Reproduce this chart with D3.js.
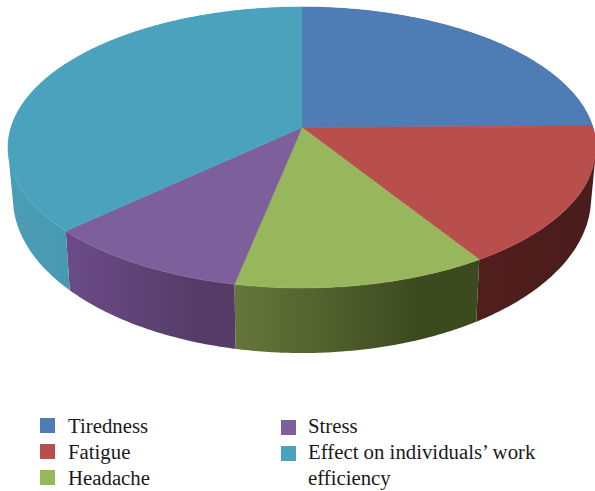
<!DOCTYPE html>
<html>
<head>
<meta charset="utf-8">
<script src="https://cdn.jsdelivr.net/npm/d3@7"></script>
<style>
    html, body { margin: 0; padding: 0; background: #fff; }
    svg { display: block; }
    text { font-family: "Liberation Serif", serif; font-size: 20.8px; fill: #1a1a1a; }
</style>
</head>
<body>
<div id="chart"></div>
<script>
// Chart data (percent of answers)
const categories = ['Tiredness', 'Fatigue', 'Headache', 'Stress', "Effect on individuals\u2019 work efficiency"];
const values = [24.8, 16.2, 12.2, 9.9, 36.9];
const topColors = ['#4e7db6', '#b94f4c', '#98b65b', '#7d5f9c', '#4aa2bd'];
// wall shading, left to right
const wallStart = ['#2f4a6c', '#521f1d', '#66763a', '#6a4b86', '#4a9db5'];
const wallEnd = ['#2a4262', '#4a1c1b', '#3c4a20', '#553c68', '#3f8ea6'];
// legend layout: column, row of first line, wrapped text
const legendColumn = [0, 0, 0, 1, 1];
const legendRow = [0, 1, 2, 0, 1];
const legendLines = [['Tiredness'], ['Fatigue'], ['Headache'], ['Stress'], ['Effect on individuals\u2019 work', 'efficiency']];

const width = 595;
const height = 491;
const tilt = 0.1423; // perspective strength of the tilted disc
const cx = 302;

// Top face and bottom face of the disc, same perspective, different plane
const topFace = { a: -119.5, b: 127.5, d: 291 };
const bottomFace = { a: -126.85, b: 175.95, d: 286.1 };

function project(face, angle) {
    const u = Math.sin(angle);
    const v = Math.cos(angle);
    const w = 1 + tilt * v;
    return [cx + face.d * u / w, (face.a * v + face.b) / w];
}

// Sample an angle span so the rim follows the curve
function sampleAngles(start, end) {
    const steps = Math.max(2, Math.ceil((end - start) / 0.01));
    return d3.range(steps + 1).map(i => start + (end - start) * i / steps);
}

const svg = d3.select('#chart')
    .append('svg')
    .attr('width', width)
    .attr('height', height);

const arcs = d3.pie().sort(null)(values);
const line = d3.line();

// Gradients for the side walls
const defs = svg.append('defs');
arcs.forEach((d, i) => {
    const xs = sampleAngles(d.startAngle, d.endAngle).map(a => project(bottomFace, a)[0]);
    const grad = defs.append('linearGradient')
        .attr('id', 'wall' + i)
        .attr('gradientUnits', 'userSpaceOnUse')
        .attr('x1', d3.min(xs))
        .attr('x2', d3.max(xs))
        .attr('y1', 0)
        .attr('y2', 0);
    grad.append('stop').attr('offset', 0).attr('stop-color', wallStart[i]);
    grad.append('stop').attr('offset', 0.75).attr('stop-color', wallEnd[i]);
});

// Side walls first, the top face covers whatever is behind it.
// Built from small quads, all wound the same way, so the fold at the silhouette stays filled
svg.append('g')
    .selectAll('path')
    .data(arcs)
    .enter()
    .append('path')
    .attr('fill', (d, i) => 'url(#wall' + i + ')')
    .attr('d', d => {
        const angles = sampleAngles(d.startAngle, d.endAngle);
        return d3.pairs(angles).map(([a0, a1]) => {
            const quad = [project(topFace, a0), project(topFace, a1), project(bottomFace, a1), project(bottomFace, a0)];
            if (d3.polygonArea(quad) < 0) quad.reverse();
            return line(quad) + 'Z';
        }).join('');
    });

// Top face
svg.append('g')
    .selectAll('path')
    .data(arcs)
    .enter()
    .append('path')
    .attr('fill', (d, i) => topColors[i])
    .attr('stroke', (d, i) => topColors[i])
    .attr('stroke-width', 0.5)
    .attr('d', d => {
        const rim = sampleAngles(d.startAngle, d.endAngle).map(a => project(topFace, a));
        return line([[cx, topFace.b]].concat(rim)) + 'Z';
    });

// Legend
const legendX = d3.scaleOrdinal().domain([0, 1]).range([40, 281]);
const legendTextX = d3.scaleOrdinal().domain([0, 1]).range([68, 308]);
const legendY = d3.scaleLinear().domain([0, 1]).range([433, 459]);

const legend = svg.append('g')
    .selectAll('g')
    .data(categories)
    .enter()
    .append('g');

legend.append('rect')
    .attr('x', (d, i) => legendX(legendColumn[i]))
    .attr('y', (d, i) => legendY(legendRow[i]) - 15 + legendColumn[i] * 2)
    .attr('width', 15)
    .attr('height', 15)
    .attr('fill', (d, i) => topColors[i]);

legend.each(function (d, i) {
    d3.select(this).selectAll('text')
        .data(legendLines[i])
        .enter()
        .append('text')
        .attr('x', legendTextX(legendColumn[i]))
        .attr('y', (t, j) => legendY(legendRow[i] + j))
        .text(t => t);
});
</script>
</body>
</html>
